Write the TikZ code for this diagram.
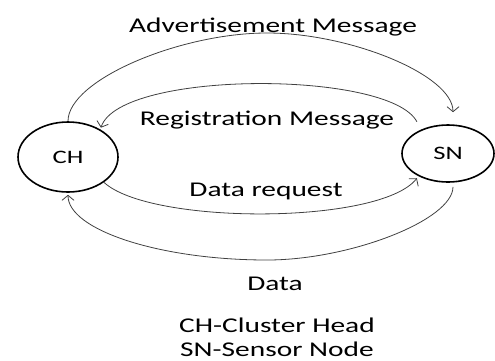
\documentclass[tikz,border=0pt]{standalone}
\usepackage{fontspec}
\usepackage{graphicx}
\setmainfont{Carlito}
\usetikzlibrary{arrows.meta,shapes.geometric}
\newcommand\wtxt[1]{\scalebox{1.4}[1]{#1}}
\tikzset{
  state/.style={ellipse, draw=black, line width=1.6pt, inner sep=0pt, font=\fontsize{19}{22}\selectfont},
  lbl/.style={anchor=base, inner sep=0pt, font=\fontsize{21}{25}\selectfont, text=black},
  flow/.style={draw=black!75, line width=0.8pt, -{Straight Barb[length=5pt,width=12pt]}}
}
\begin{document}
\begin{tikzpicture}[x=1pt,y=-1pt]
\useasboundingbox (0,0) rectangle (495,360);
\node[state, minimum width=100pt, minimum height=70pt] (CH) at (68,157) {\wtxt{CH}};
\node[state, minimum width=92pt, minimum height=57pt] (SN) at (448,153.5) {\wtxt{SN}};
% connectors
\draw[flow] (CH.north) .. controls (68,80) and (180,33) .. (267,33)
  .. controls (350,33) and (453,75) .. ([xshift=5pt,yshift=12pt]SN.north);
\draw[flow] ([xshift=2pt,yshift=11pt]SN.north west) .. controls (390,70) and (120,70) .. ([xshift=-3pt,yshift=4pt]CH.north east);
\draw[flow] (CH.south east) .. controls (150,225) and (380,225) .. ([xshift=2pt,yshift=-4pt]SN.south west);
\draw[flow] ([xshift=5pt,yshift=-4pt]SN.south) .. controls (453,220) and (350,260) .. (267,260)
  .. controls (160,260) and (68,230) .. ([yshift=-2pt]CH.south);
% labels
\node[lbl] (adv) at (273,32) {\wtxt{Advertisement Message}};
\node[lbl] (reg) at (267,125) {\wtxt{Registration Message}};
\node[lbl] (req) at (266,196.5) {\wtxt{Data request}};
\node[lbl] (dat) at (275,290) {\wtxt{Data}};
\node[lbl] (k1) at (277,332) {\wtxt{CH-Cluster Head}};
\node[lbl] (k2) at (277,356) {\wtxt{SN-Sensor Node}};
\end{tikzpicture}
\end{document}
